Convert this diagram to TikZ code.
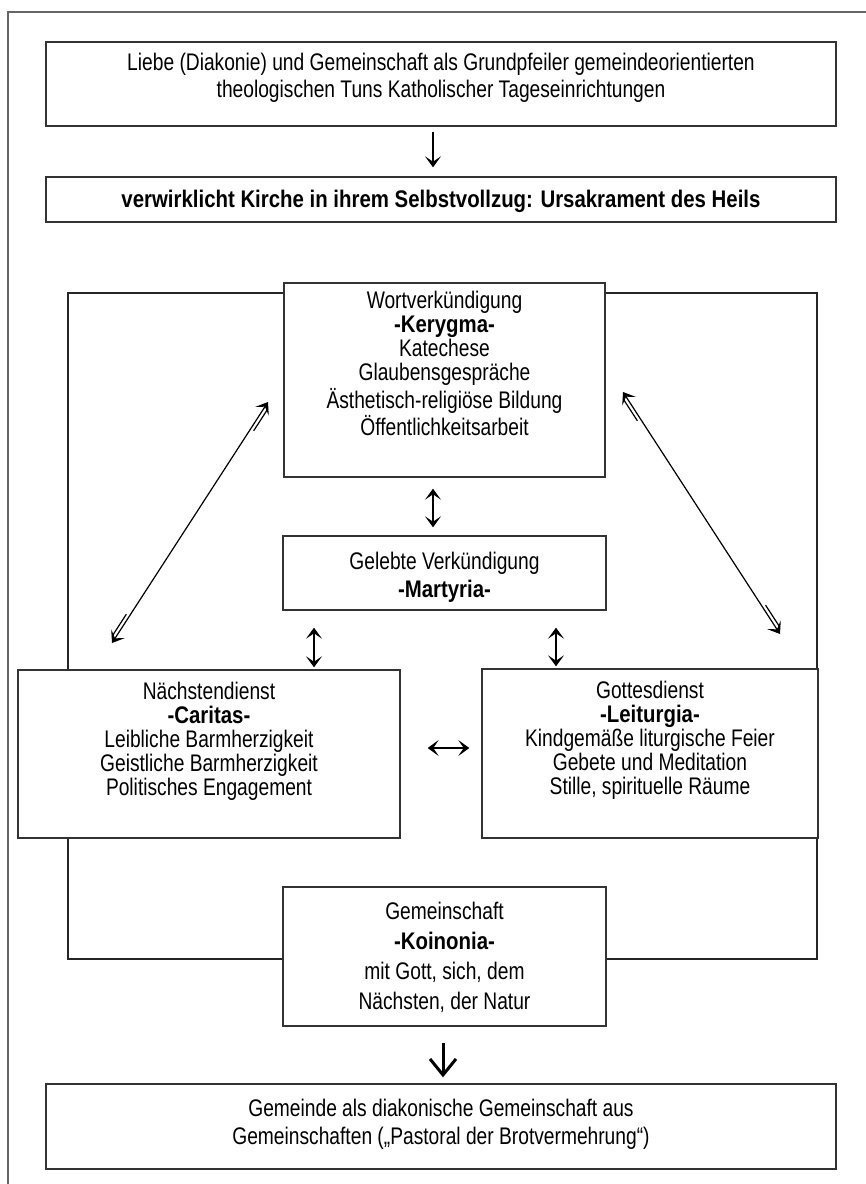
\documentclass[tikz,border=0pt]{standalone}
\usepackage{fontspec}
\setmainfont{Liberation Sans}[UprightFeatures={FakeStretch=0.8},BoldFeatures={FakeStretch=0.85}]
\usepackage{tikz}
\usetikzlibrary{arrows.meta,calc,positioning}
\newcommand{\kasten}[5]{\parbox[c][#2][t]{#1}{\centering\baselineskip=#3\relax\vspace*{#4}#5\par}}

\begin{document}
\begin{tikzpicture}[x=0.5pt,y=-0.5pt,
    box/.style={draw=black!80,line width=.7pt,fill=white,inner sep=0pt,font=\fontsize{12pt}{12pt}\selectfont},
    frame/.style={draw=black!85,line width=1.3pt},
    pageline/.style={draw=black!60,line width=.8pt},
    arr/.style={line width=.6pt,>={Stealth[length=5.5pt,width=8pt,inset=2.7pt]}},
    bigarr/.style={line width=1.5pt,-{Straight Barb[length=8pt,width=13pt]}}]
    \useasboundingbox (0,0) rectangle (866,1184);
    \draw[pageline] (8,1184) -- (8,12) -- (866,12);
    \draw[frame] (68,293) rectangle (817,959);
    \node (liebe) at (441,84) [box] {\kasten{395pt}{42pt}{13.5pt}{5.8pt}{Liebe (Diakonie) und Gemeinschaft als Grundpfeiler gemeindeorientierten\\ theologischen Tuns Katholischer Tageseinrichtungen}};
    \node (kirche) at (441,199.5) [box] {\kasten{395pt}{22.5pt}{12pt}{6.8pt}{\textbf{verwirklicht Kirche in ihrem Selbstvollzug: Ursakrament des Heils}}};
    \node (kerygma) at (444.5,380) [box] {\kasten{160.5pt}{97pt}{12pt}{4.3pt}{Wortverkündigung\\ \textbf{-Kerygma-}\\ Katechese\\ Glaubensgespräche\\ Ästhetisch-religiöse Bildung\\ Öffentlichkeitsarbeit}};
    \node (martyria) at (444.5,573) [box] {\kasten{161.5pt}{37pt}{14pt}{7.8pt}{Gelebte Verkündigung\\ \textbf{-Martyria-}}};
    \node (caritas) at (209,754) [box] {\kasten{191pt}{84pt}{12.1pt}{5.8pt}{Nächstendienst\\ \textbf{-Caritas-}\\ Leibliche Barmherzigkeit\\ Geistliche Barmherzigkeit\\ Politisches Engagement}};
    \node (leiturgia) at (650,753.5) [box] {\kasten{168pt}{84.5pt}{12.1pt}{5.8pt}{Gottesdienst\\ \textbf{-Leiturgia-}\\ Kindgemäße liturgische Feier\\ Gebete und Meditation\\ Stille, spirituelle Räume}};
    \node (koinonia) at (444.5,956.5) [box] {\kasten{161.5pt}{69.5pt}{15pt}{7.3pt}{Gemeinschaft\\ \textbf{-Koinonia-}\\ mit Gott, sich, dem\\ Nächsten, der Natur}};
    \node (gemeinde) at (441,1126.5) [box] {\kasten{395pt}{42.5pt}{14pt}{7.3pt}{Gemeinde als diakonische Gemeinschaft aus\\ Gemeinschaften („Pastoral der Brotvermehrung“)}};
    \draw[arr,->] ($(liebe.south)+(-4pt,-2.5pt)$) -- ($(kirche.north)+(-4pt,4.5pt)$);
    \draw[arr,<->] ($(kerygma.south)+(-5.75pt,-5.5pt)$) -- ($(martyria.north)+(-5.75pt,4pt)$);
    \draw[arr,<->] ($(martyria.south)+(-65.25pt,-8.5pt)$) -- ($(caritas.north)+(52.5pt,1pt)$);
    \draw[arr,<->] ($(martyria.south)+(55.75pt,-8.5pt)$) -- ($(leiturgia.north)+(-47pt,1pt)$);
    \draw[arr,<->] ($(caritas.east)+(13.5pt,3pt)$) -- ($(leiturgia.west)+(-6pt,2.75pt)$);
    \coordinate (wkl) at (268,402);
    \coordinate (ndl) at (112,643);
    \coordinate (wkr) at (623,392);
    \coordinate (gdr) at (780,634);
    \draw[arr,<->] (wkl) -- (ndl);
    \draw[arr] ($(wkl)!3pt!(ndl)!1.8pt!90:(ndl)$) -- ($(wkl)!16pt!(ndl)!1.8pt!90:(ndl)$);
    \draw[arr] ($(ndl)!3pt!(wkl)!1.8pt!90:(wkl)$) -- ($(ndl)!16pt!(wkl)!1.8pt!90:(wkl)$);
    \draw[arr,<->] (wkr) -- (gdr);
    \draw[arr] ($(wkr)!3pt!(gdr)!1.8pt!-90:(gdr)$) -- ($(wkr)!16pt!(gdr)!1.8pt!-90:(gdr)$);
    \draw[arr] ($(gdr)!3pt!(wkr)!1.8pt!-90:(wkr)$) -- ($(gdr)!16pt!(wkr)!1.8pt!-90:(wkr)$);
    \draw[bigarr] ($(koinonia.south)+(-.75pt,-8pt)$) -- ($(gemeinde.north)+(1pt,3pt)$);
\end{tikzpicture}
\end{document}
